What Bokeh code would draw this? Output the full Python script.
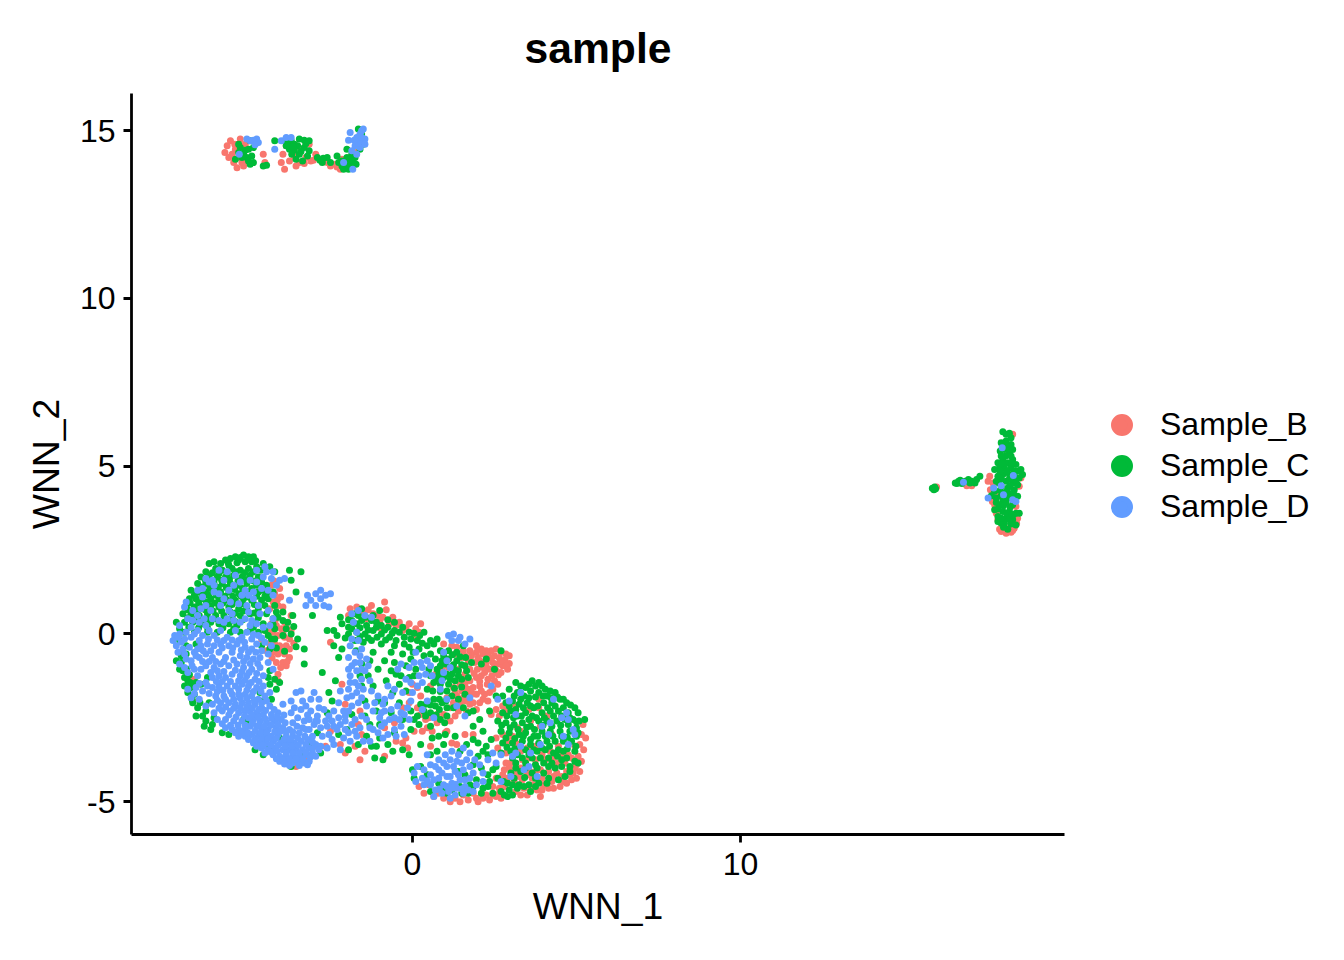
from bokeh.plotting import figure
from bokeh.models import Range1d, FixedTicker, Legend, LegendItem, ColumnDataSource
from bokeh.embed import file_html
from bokeh.resources import INLINE

FONT = "Liberation Sans"
colors = {"Sample_B": "#F8766D", "Sample_C": "#00BA38", "Sample_D": "#619CFF"}

b_top = [(-5.72,14.35),(-5.65,14.55),(-5.55,14.7),(-5.6,14.2),(-5.45,14.05),(-5.35,13.9),(-5.25,14.75),(-5.3,14.2),(-5.15,13.95),(-5.05,14.1),(-5.4,14.45),(-5.1,14.6),(-5.5,14.3),(-5.42,14.6),(-5.2,14.05),
(-4.55,14.3),(-4.5,14.05),(-3.95,14.3),(-3.85,14.55),(-3.75,14.1),(-3.6,14.25),(-3.45,14.05),(-3.4,14.45),(-3.25,14.2),(-3.15,14.6),(-3.1,14.1),(-2.95,14.3),(-3.55,13.95),(-4.0,14.05),(-3.3,14.02),(-3.02,14.12),
(-2.7,14.15),(-2.5,13.95),(-2.35,14.0),(-2.2,13.85),(-2.05,13.95),(-1.9,14.2),(-1.8,14.05),(-1.75,14.35),(-2.15,14.15),(-3.9,13.85),(-2.6,14.05),(-2.3,13.92)]
c_top = [(-5.4,14.15),(-5.3,14.35),(-5.25,14.5),(-5.15,14.3),(-5.05,14.2),(-5.0,14.45),(-4.95,14.7),(-4.75,14.65),(-4.85,14.05),(-4.95,14.0),(-4.55,13.95),(-4.45,13.97),(-5.2,14.2),(-5.1,14.42),(-4.9,14.25),(-5.0,14.1),(-5.3,14.6),(-4.85,14.5),
(-4.2,14.7),(-3.9,14.7),(-3.8,14.62),(-3.7,14.72),(-3.6,14.6),(-3.45,14.75),(-3.3,14.72),(-3.15,14.7),(-3.75,14.45),(-3.6,14.42),(-3.45,14.3),(-3.3,14.5),(-3.15,14.4),(-3.55,14.15),(-3.35,14.1),(-3.2,14.25),(-3.85,14.55),(-3.68,14.3),(-3.5,14.55),(-3.25,14.62),(-3.4,14.38),(-3.65,14.52),
(-2.9,14.2),(-2.75,14.05),(-2.6,14.2),(-2.5,14.05),(-2.3,14.25),(-2.25,14.05),(-2.15,13.95),(-2.0,14.05),(-1.9,14.0),(-1.85,14.3),(-1.75,14.2),(-1.6,14.45),(-2.0,14.45),(-1.65,15.05),(-1.55,14.9),(-1.5,14.6),(-2.05,13.9),(-2.15,14.1),(-2.0,14.2),(-1.85,14.12),(-2.1,13.85),(-1.95,13.85),(-1.72,14.0),(-2.72,14.18),(-2.82,14.12)]
d_top = [(-5.28,14.3),(-4.95,14.7),(-4.75,14.75),(-4.7,14.65),(-5.05,14.75),(-4.0,14.7),(-3.85,14.8),(-3.7,14.8),(-4.2,14.45),(-2.1,14.05),(-1.82,13.85),(-1.7,14.3),(-1.95,14.72),(-1.9,14.95),(-1.7,14.8),(-1.6,14.9),
(-1.55,15.0),(-1.5,15.05),(-1.6,14.7),(-1.45,14.75),(-1.75,14.55),(-1.6,14.5),(-1.45,14.6),(-1.55,14.8),(-1.85,14.4),(-1.65,14.62),(-1.78,14.72),(-4.85,14.72),(-4.8,14.58)]

b_right = [(17.95,3.05),(18.1,3.0),(18.25,3.03),(18.35,3.15),(18.0,3.2),(18.2,3.15),(17.85,3.4),(17.8,3.6),(17.75,3.85),(17.65,4.05),(17.62,4.3),(17.55,4.55),(17.6,4.7),(18.45,3.45),(18.5,4.4),(18.55,4.65),(17.05,4.42),(16.9,4.42),(15.98,4.38),(18.0,5.6),(18.3,5.95),(17.9,4.2),(18.4,3.8),(17.7,4.2),(17.7,4.5),(17.68,3.95),(17.78,3.7),(18.42,3.3),(18.1,3.08),(17.9,3.12),(18.3,3.08)]
c_right = [(15.9,4.3),(15.95,4.33),(15.85,4.34),(15.92,4.38),(16.55,4.5),(16.65,4.55),(16.75,4.48),(16.85,4.55),(16.95,4.6),(17.05,4.55),(17.2,4.6),(17.3,4.7),(16.7,4.58),(17.15,4.5),(16.6,4.48),(17.0,4.5),
(18.0,6.03),(18.1,5.95),(18.2,5.98),(18.25,5.85),(18.1,5.75),(17.95,5.7),(18.25,5.65),(17.92,5.45),(18.05,5.5),(18.3,5.5),(18.2,5.35),(18.3,5.2),(18.4,5.05),(18.45,4.85),(18.0,5.2),(17.85,5.1),(18.15,5.1),(17.9,4.95),(17.75,4.9),(18.05,4.95),(18.25,4.95),(18.55,4.9),(18.6,4.75),(18.5,4.65),(18.35,4.7),(18.2,4.75),(18.0,4.75),(17.85,4.7),(17.8,4.55),(18.1,4.55),(18.3,4.5),(18.45,4.45),(17.95,4.4),(18.15,4.35),(18.35,4.3),(18.45,4.1),(17.75,4.25),(18.05,4.2),(18.25,4.15),(17.8,4.05),(18.0,4.0),(17.65,4.12),(17.9,3.85),(18.1,3.9),(18.3,3.85),(18.5,3.6),(17.75,3.7),(18.0,3.65),(18.2,3.65),(18.4,3.6),(17.85,3.5),(18.1,3.45),(18.3,3.4),(17.85,3.35),(18.05,3.3),(18.25,3.28),(18.4,3.25),(18.15,3.12),(17.95,3.3),
(18.12,5.6),(18.18,5.45),(18.08,5.3),(17.95,5.3),(18.25,5.3),(17.98,5.08),(18.28,5.1),(17.92,4.85),(18.12,4.85),(18.35,4.85),(17.95,4.62),(18.2,4.62),(18.4,4.58),(17.88,4.5),(18.22,4.42),(17.92,4.28),(18.12,4.25),(18.32,4.22),(17.95,4.12),(18.18,4.05),(18.35,4.05),(17.8,3.92),(18.02,3.82),(18.22,3.78),(17.85,3.72),(18.12,3.58),(18.32,3.55),(17.95,3.45),(18.2,3.42),(18.02,3.18),(18.28,3.55)]
d_right = [(16.8,4.52),(17.98,5.55),(17.72,4.35),(17.55,4.05),(17.95,4.42),(18.02,4.15),(18.32,4.72),(18.3,4.0),(18.4,3.95)]

b_main = [(-4.3,1.45),(-4.15,1.5),(-4.05,1.35),(-4.2,1.2),(-4.02,1.1),(-4.25,0.95),(-4.1,0.85),(-3.95,0.8),(-4.35,0.75),(-3.7,0.55),
(-4.3,0.3),(-4.15,0.25),(-4.0,0.15),(-3.85,0.2),(-3.7,0.1),(-4.25,0.05),(-4.1,-0.05),(-3.9,-0.1),(-3.75,-0.15),(-4.35,-0.3),(-4.2,-0.3),(-4.05,-0.35),(-3.85,-0.35),(-3.75,-0.45),(-4.25,-0.55),(-4.1,-0.6),(-3.9,-0.6),(-3.75,-0.7),(-4.15,-0.85),(-3.95,-0.85),(-3.85,-0.95),(-4.1,-1.2),(-4.6,-0.15),(-4.1,-1.4),
(-5.3,0.9),(-6.8,-1.35),(-6.65,-1.35),(-6.7,-2.0),(-1.6,-2.3),(-1.55,-3.0),(-1.65,-2.7),(-2.2,-3.3),(-2.05,-3.55),(-1.75,-3.35),(-1.6,-3.75),(-1.45,-3.5),(-2.5,-2.9),(-2.65,-3.35),(-3.0,-3.35),(-3.3,-3.75),(-2.15,-1.5),(-2.05,-2.1),
(-1.9,0.75),(-1.7,0.8),(-1.5,0.65),(-1.95,0.55),(-1.4,0.45),(-1.2,0.6),(-1.0,0.35),(-0.9,0.5),(-0.7,0.3),(-0.5,0.25),(-0.3,0.1),(-0.1,0.3),(0.1,0.15),(0.25,0.3),(-1.25,0.85),(-0.85,0.95),(-2.5,-0.25),
(0.0,-1.5),(0.15,-1.6),(-0.1,-1.75),(0.25,-1.85),(-0.3,-2.2),(-0.1,-2.05),(0.25,-2.4),(0.05,-2.9),(-0.2,-3.1),(0.3,-2.9),(-0.85,-2.8),(-0.5,-3.2),(-0.55,-2.65),(-0.15,-3.4),
(0.55,-1.55),(0.7,-1.2),(0.9,-1.05),(0.95,-0.3),(1.2,-0.35),(1.35,-0.4),(1.55,-0.5),(1.75,-0.5),(1.95,-0.35),(2.1,-0.45),(2.25,-0.5),(2.4,-0.5),(2.55,-0.45),(2.7,-0.55),(2.85,-0.6),(2.95,-0.65),(1.95,-0.55),(2.15,-0.6),(2.3,-0.65),(2.5,-0.65),(2.65,-0.72),(2.82,-0.78),(2.95,-0.88),(2.05,-0.8),(2.25,-0.85),(2.45,-0.85),(2.6,-0.9),(2.75,-0.95),(2.9,-1.05),(2.15,-1.0),(2.35,-1.05),(2.55,-1.1),(2.7,-1.15),(1.9,-0.85),(1.7,-0.8),(1.5,-0.7),
(1.1,-1.0),(1.4,-1.05),(1.45,-1.3),(1.6,-1.2),(1.75,-1.05),(1.45,-1.5),(1.6,-1.5),(1.75,-1.4),(1.95,-1.3),(1.25,-1.6),(1.5,-1.7),(1.7,-1.65),(1.85,-1.6),(2.05,-1.55),(1.35,-1.85),(1.55,-1.9),(1.75,-1.85),(1.95,-1.8),(2.2,-1.8),(2.45,-1.65),(2.6,-1.5),(2.1,-1.25),(2.3,-1.35),(1.05,-1.9),(1.25,-2.05),(1.45,-2.1),(1.75,-2.1),(2.05,-2.05),(2.3,-2.0),(2.55,-2.25),(2.85,-2.3),
(0.5,-2.5),(0.75,-2.65),(0.95,-2.4),(1.15,-2.6),(1.3,-2.45),(1.0,-2.95),(0.6,-2.9),(0.4,-2.55),(1.05,-2.9),(0.55,-3.35),(0.15,-2.2),(1.35,-3.3),(1.6,-3.0),(2.4,-2.4),(2.65,-2.45),
(2.9,-3.2),(3.2,-2.8),(3.15,-3.25),(2.85,-3.55),(3.0,-3.85),(2.95,-4.0),(3.3,-3.5),(3.5,-3.4),(3.75,-3.75),(3.95,-3.6),(4.2,-3.5),(4.45,-3.85),(4.65,-3.85),(4.85,-3.7),(3.2,-4.15),(3.55,-4.05),(3.9,-4.05),(4.15,-4.1),(4.4,-4.15),(4.7,-4.1),(4.95,-4.0),(5.05,-3.65),(5.1,-3.3),(5.15,-3.0),(5.2,-2.7),(3.1,-4.4),(3.35,-4.35),(3.65,-4.3),(3.95,-4.3),(4.25,-4.4),(4.6,-4.4),(4.85,-4.35),(5.0,-4.3),(3.4,-4.6),(3.8,-4.65),(4.15,-4.6),(4.5,-4.55),(3.15,-4.7),(3.5,-4.8),(3.9,-4.85),
(2.75,-4.2),(2.65,-4.6),(2.55,-4.85),(2.35,-4.95),(2.15,-4.9),(1.85,-4.75),(1.55,-4.8),(1.3,-4.9),(2.0,-5.0),(2.7,-4.9),(2.45,-4.55),(0.5,-4.5),(0.8,-4.75),(1.05,-4.8),(0.35,-4.75),(3.85,-1.95),(3.75,-2.5),(3.9,-2.75),(0.2,0.05),(0.05,-0.1)]
b_fill = [(-4.22,1.58),(-4.12,1.02),(-3.9,0.35),(-4.18,0.42),(-3.95,0.02),(-3.62,-0.28),(-3.98,-0.5),(-4.28,-0.72),(-4.02,-1.0),(-3.82,-0.82),(-4.42,0.1),(-4.45,-0.5),(-1.35,0.72),(-1.05,0.55),(-0.8,0.72),(-0.6,0.5),(-0.4,0.35),(-0.2,0.18),(-0.95,0.15),
(1.3,-0.6),(1.6,-0.65),(2.0,-0.7),(2.4,-0.72),(2.7,-0.82),(2.85,-0.95),(1.8,-0.65),(2.25,-0.98),(2.5,-0.98),(2.62,-1.22),(2.42,-1.25),(2.2,-1.15),(1.98,-1.05),(1.88,-1.18),(2.05,-1.42),(2.28,-1.5),(2.5,-1.4),(1.6,-1.35),(1.82,-1.78),(2.1,-1.7),(2.35,-1.75),(1.62,-1.72),(1.3,-1.75),(1.45,-1.95),(1.62,-2.0),(1.85,-2.05),(2.15,-1.95),(1.15,-2.2),(1.4,-2.3),(1.65,-2.3),(1.95,-2.25),(0.75,-2.4),(0.45,-2.8),
(3.3,-4.0),(3.05,-4.1),(3.5,-4.2),(3.75,-4.1),(4.0,-4.5),(4.3,-4.25),(4.55,-4.25),(4.8,-4.2),(3.25,-4.25),(3.7,-4.5),(3.95,-4.65),(4.3,-4.6),(4.7,-4.45),(3.6,-4.65),(3.3,-4.8),(5.1,-4.1),(5.15,-3.8),(5.22,-3.45),(5.28,-3.1),(5.0,-3.9),(4.9,-4.15),(4.95,-3.35),(4.75,-3.6),(4.55,-3.65),(4.3,-3.7),(4.05,-3.75),(3.55,-3.7),(3.35,-3.75),(3.15,-3.4),(2.85,-3.85),(2.8,-4.05),(3.05,-3.05),(3.3,-2.9),(2.75,-3.0),(2.55,-3.1),(2.6,-3.4),(3.6,-2.6),(3.85,-2.2),(3.55,-2.25),(3.15,-2.15),(2.75,-2.15),(4.1,-2.45),(4.25,-3.0),(4.45,-3.35),(3.75,-3.35),
(2.65,-4.75),(2.45,-4.8),(2.25,-4.8),(1.95,-4.9),(1.7,-4.95),(1.45,-5.0),(2.8,-4.55),(2.9,-4.3),(2.55,-4.3),(1.15,-5.0),(0.95,-4.9),(0.65,-4.85),(0.2,-4.55),(-0.85,-3.65),(-0.3,-3.25),(1.2,-3.25),(1.85,-3.0),(-3.55,-3.95)]

c_main = [(-5.7,2.2),(-5.55,2.25),(-5.4,2.3),(-5.25,2.28),(-5.15,2.35),(-5.0,2.3),(-4.85,2.3),(-4.9,2.15),(-5.1,2.15),(-5.35,2.12),(-5.6,2.05),(-5.85,2.1),(-6.05,2.15),(-6.2,2.1),(-6.0,1.95),(-5.8,1.9),(-5.5,1.95),(-5.25,1.9),(-5.0,1.95),(-4.75,2.0),(-4.55,2.1),(-4.35,2.0),(-4.2,1.85),(-3.75,1.9),(-3.7,1.6),(-6.3,1.85),(-6.45,1.7),(-6.2,1.7),(-5.95,1.7),(-5.7,1.7),(-5.45,1.75),(-5.2,1.7),(-4.95,1.75),(-4.7,1.7),(-6.55,1.5),(-6.3,1.5),(-6.05,1.5),(-5.8,1.5),(-5.55,1.5),(-5.3,1.45),(-5.05,1.5),(-4.75,1.45),(-4.45,1.45),(-6.75,1.3),(-6.55,1.25),(-6.3,1.25),(-6.1,1.3),(-5.85,1.25),(-5.6,1.25),(-5.3,1.2),(-5.0,1.25),(-4.7,1.25),(-4.45,1.2),(-4.25,1.25),(-6.8,1.05),(-6.6,1.05),(-6.4,1.05),(-6.15,1.05),(-5.9,1.05),(-5.65,1.0),(-5.4,1.0),(-5.15,1.05),(-4.9,1.0),(-4.6,1.0),(-4.4,1.05),(-6.9,0.85),(-6.65,0.8),(-6.4,0.8),(-6.15,0.85),(-5.9,0.8),(-5.6,0.8),(-5.3,0.75),(-5.05,0.8),(-4.7,0.75),(-4.5,0.85),(-4.2,0.85),
(-7.0,0.6),(-6.75,0.6),(-6.5,0.55),(-6.25,0.6),(-6.0,0.55),(-5.75,0.55),(-5.5,0.5),(-5.25,0.55),(-4.95,0.6),(-4.45,0.6),(-4.15,0.65),(-3.95,0.65),(-7.2,0.35),(-6.95,0.35),(-6.7,0.35),(-6.4,0.3),(-6.15,0.35),(-5.9,0.3),(-5.6,0.3),(-5.35,0.25),(-4.85,0.35),(-4.55,0.3),(-4.25,0.45),(-3.95,0.4),(-3.8,0.35),(-3.65,0.55),(-6.95,0.05),(-6.65,0.05),(-6.25,0.05),(-5.95,0.05),(-5.55,0.05),(-5.25,0.05),(-4.95,0.1),(-4.7,0.05),(-4.5,0.1),(-4.2,0.15),(-4.4,-0.05),(-3.95,-0.05),(-3.7,0.0),(-3.5,-0.15),(-7.1,-0.2),(-6.9,-0.35),(-6.6,-0.3),(-4.6,-0.35),(-4.35,-0.45),(-7.2,-0.8),(-7.05,-0.85),(-7.0,-1.1),(-6.95,-1.3),(-6.85,-1.4),(-6.95,-1.55),(-6.75,-1.6),(-6.85,-1.75),(-6.65,-1.8),(-6.7,-2.05),(-6.55,-2.2),(-6.4,-2.45),(-6.3,-2.6),(-6.15,-2.85),(-6.25,-1.3),(-6.2,-2.05),(-4.65,-1.75),(-4.35,-1.1),(-4.35,-1.5),(-4.2,-1.35),(-4.4,-1.3),(-4.05,-1.45),(-4.15,-1.65),(-4.3,-1.95),(-4.55,-2.0),(-5.15,-2.55),(-5.0,-2.6),(-4.55,-3.0),(-4.05,-3.1),(-4.35,-3.35),(-3.7,-3.95),(-3.3,-3.6),(-2.8,-3.55),(-2.25,-3.0),(-2.0,-2.85),(-1.65,-3.3),(-1.95,-3.45),(-1.85,-2.4),(-1.45,-2.0),(-1.55,-1.55),(-1.35,-1.25),(-2.6,-2.35),(-2.35,-1.4),(-2.25,-0.7),(-2.15,-0.45),(-2.4,-0.35),
(-2.6,0.1),(-2.4,0.1),(-2.15,0.3),(-1.95,0.2),(-1.85,0.4),(-1.7,0.3),(-1.55,0.4),(-1.4,0.25),(-1.25,0.4),(-1.1,0.2),(-0.95,0.25),(-0.75,0.2),(-0.55,0.1),(-0.4,0.05),(-1.95,0.0),(-1.7,0.05),(-1.45,0.0),(-1.2,0.1),(-0.95,0.0),(-0.7,-0.1),(-0.5,-0.2),(-0.25,-0.1),(-0.05,-0.15),(0.15,-0.2),(-0.1,0.05),(0.35,0.05),(-1.75,-0.2),(-1.5,-0.25),(-1.25,-0.2),(-0.95,-0.3),(-0.65,-0.55),(-1.55,0.75),(-1.75,0.6),(-1.0,0.7),(-0.55,0.35),(-2.2,0.5),
(-0.1,-0.4),(0.2,-0.45),(0.45,-0.35),(0.65,-0.3),(0.85,-0.5),(0.55,-0.6),(0.35,-0.65),(-0.05,-0.75),(0.7,-0.75),(0.9,-0.8),(1.1,-0.5),(1.35,-0.55),(1.55,-0.35),(1.8,-0.85),(1.1,-0.75),(1.35,-0.8),(1.6,-0.95),(0.5,-1.05),(0.75,-1.05),(0.95,-1.3),(1.2,-1.2),(1.4,-1.1),(1.65,-1.1),(0.65,-1.45),(0.85,-1.5),(1.1,-1.5),(1.3,-1.4),(1.5,-1.35),(1.7,-1.3),(2.1,-0.9),(2.25,-0.75),(2.5,-1.05),(2.7,-0.5),(-0.1,-1.3),(0.05,-1.25),(-0.35,-1.25),(0.1,-1.05),(-0.65,-1.1),(-0.4,-1.5),
(0.4,-2.1),(0.55,-2.35),(0.7,-2.15),(0.9,-2.05),(1.05,-2.2),(1.2,-1.85),(1.4,-1.95),(1.6,-1.8),(1.85,-2.3),(0.85,-2.55),(1.05,-2.45),(0.2,-2.7),(0.35,-2.3),(0.05,-2.55),(0.55,-2.75),(-0.05,-2.3),(-0.3,-2.55),(-0.65,-2.35),(-1.0,-3.1),(-0.55,-2.95),(-1.15,-3.7),(-0.9,-3.75),(-0.3,-3.45),(-0.1,-3.6),(0.25,-3.95),(0.55,-3.6),(0.6,-3.1),(0.95,-3.3),(0.75,-3.5),(0.05,-4.3),(0.0,-4.05),(1.0,-3.0),(1.3,-3.05),(2.05,-2.55),(1.85,-2.75),(2.15,-2.9),
(2.35,-2.3),(2.55,-1.85),(2.75,-1.85),(2.95,-1.65),(3.15,-1.45),(3.45,-1.6),(3.65,-1.4),(3.85,-1.45),(4.05,-1.65),(3.2,-1.75),(3.4,-1.85),(3.6,-1.7),(3.85,-1.75),(4.1,-1.85),(4.35,-1.75),(2.85,-2.05),(3.05,-2.0),(3.25,-2.1),(3.5,-2.05),(3.7,-2.2),(4.0,-2.05),(4.25,-2.05),(4.5,-1.95),(4.7,-2.05),(2.75,-2.35),(3.0,-2.3),(3.2,-2.45),(3.45,-2.35),(3.65,-2.45),(3.95,-2.35),(4.2,-2.3),(4.45,-2.3),(4.75,-2.35),(4.95,-2.2),(2.6,-2.6),(2.85,-2.65),(3.1,-2.7),(3.35,-2.65),(3.6,-2.75),(3.85,-2.6),(4.1,-2.6),(4.4,-2.6),(4.65,-2.55),(4.9,-2.55),(5.25,-2.55),(2.7,-2.9),(2.95,-2.95),(3.25,-3.0),(3.45,-2.95),(3.7,-3.05),(3.95,-2.9),(4.2,-2.9),(4.5,-2.9),(4.8,-2.9),(5.0,-2.8),(2.75,-3.25),(3.05,-3.25),(3.35,-3.2),(3.6,-3.3),(3.85,-3.25),(4.1,-3.2),(4.35,-3.2),(4.6,-3.2),(4.85,-3.2),(5.0,-3.05),(2.7,-3.55),(3.0,-3.5),(3.2,-3.6),(3.55,-3.6),(3.8,-3.5),(4.05,-3.45),(4.3,-3.55),(4.6,-3.5),(4.95,-3.5),(3.15,-3.85),(3.45,-3.85),(3.75,-3.9),(4.0,-3.85),(4.25,-3.85),(4.55,-3.75),(4.8,-3.95),(4.95,-3.8),(3.0,-4.15),(3.3,-4.1),(3.65,-4.15),(4.0,-4.15),(4.35,-4.0),(4.65,-4.25),(2.9,-4.45),(3.25,-4.5),(3.55,-4.5),(3.85,-4.45),(4.1,-4.45),(2.7,-4.7),(2.95,-4.65),(3.2,-4.6),(3.6,-4.7),
(2.15,-3.5),(2.0,-3.65),(1.85,-3.9),(2.1,-4.0),(2.3,-4.2),(2.55,-3.95),(2.6,-4.3),(2.3,-4.55),(2.1,-4.75),(1.85,-4.55),(1.7,-4.75),(1.45,-4.55),(1.2,-4.65),(0.95,-4.6),(1.6,-4.2),(2.45,-4.75),(2.9,-4.85),(3.05,-4.8),(1.65,-3.3),(0.45,-4.2),(0.55,-4.7),(1.4,-4.1)]
c_fill = [(-5.62,2.12),(-5.3,2.2),(-5.02,2.22),(-4.78,2.18),(-4.62,1.9),(-4.85,1.85),(-5.12,1.82),(-5.38,1.85),(-5.65,1.8),(-5.9,1.8),(-6.1,1.82),(-6.32,1.62),(-6.05,1.6),(-5.82,1.6),(-5.58,1.62),(-5.32,1.58),(-5.08,1.62),(-4.85,1.58),(-4.6,1.55),(-6.45,1.4),(-6.18,1.4),(-5.92,1.38),(-5.68,1.38),(-5.42,1.32),(-5.18,1.35),(-4.9,1.35),(-4.58,1.3),(-6.65,1.15),(-6.42,1.15),(-6.22,1.15),(-5.98,1.15),(-5.72,1.12),(-5.48,1.12),(-5.22,1.12),(-5.0,1.1),(-4.75,1.12),(-4.5,1.12),(-6.78,0.92),(-6.52,0.92),(-6.28,0.95),(-6.02,0.92),(-5.78,0.92),(-5.5,0.88),(-5.18,0.9),(-4.82,0.88),(-6.85,0.72),(-6.58,0.68),(-6.32,0.72),(-6.08,0.68),(-5.82,0.68),(-5.55,0.65),(-5.4,0.62),(-5.15,0.68),(-4.82,0.62),(-6.85,0.48),(-6.6,0.45),(-6.28,0.45),(-6.02,0.45),(-5.72,0.42),(-5.42,0.38),(-5.18,0.42),(-4.7,0.48),(-7.1,0.15),(-6.82,0.2),(-6.52,0.18),(-6.25,0.18),(-5.78,0.18),(-5.45,0.15),(-4.85,0.2),(-7.05,-0.65),(-6.9,-0.6),(-7.1,-1.05),(-6.88,-1.05),(-6.8,-1.22),(-6.78,-1.45),(-6.6,-1.45),(-6.45,-1.5),(-6.72,-1.95),(-6.48,-2.05),(-6.3,-2.3),(-6.05,-2.5),(-6.1,-2.7),(-5.8,-2.95),(-5.6,-3.0),(-4.3,-0.15),(-4.25,0.28),(-4.1,0.5),(-3.85,0.15),(-3.62,0.22),(-4.2,-0.15),(-3.9,-0.52),(-3.55,-0.38),(-4.15,-0.42),
(-1.85,0.15),(-1.6,0.18),(-1.35,0.12),(-1.1,0.35),(-0.85,0.12),(-0.62,0.02),(-1.6,-0.08),(-1.35,-0.12),(-1.08,-0.1),(-0.82,-0.18),(-0.55,-0.35),(-2.05,-0.12),(-2.3,-0.05),(-1.95,0.42),(-1.65,0.55),(-1.42,0.5),(-1.2,0.55),(-0.75,0.42),(-0.3,0.2),(0.05,0.02),(0.22,-0.05),(-0.25,-0.3),(0.02,-0.55),(0.3,-0.28),(0.55,-0.2),(0.75,-0.15),(-1.72,-0.5),(-1.2,-0.55),(-1.55,-0.9),(-1.3,-0.8),(-1.6,-1.25),(-1.2,-1.55),(-1.05,-1.05),(-0.85,-0.8),(-0.8,-1.4),(-0.55,-0.85),(-0.6,-1.75),(-0.2,-1.7),(-0.85,-2.05),(-1.1,-2.3),(-1.3,-2.7),(-1.4,-3.05),(-1.25,-3.35),(-1.0,-2.7),(-0.75,-3.3),(-0.4,-2.05),
(0.85,-0.95),(1.02,-0.9),(0.95,-0.65),(1.22,-0.62),(1.45,-0.68),(1.62,-0.7),(1.25,-0.92),(1.5,-0.92),(0.8,-1.2),(1.05,-1.2),(1.3,-1.08),(1.15,-1.35),(1.4,-1.25),(0.55,-1.25),(0.75,-1.35),(0.45,-1.65),(0.62,-1.7),(0.85,-1.72),(1.05,-1.7),(1.28,-1.62),(1.5,-1.58),(0.65,-1.95),(0.82,-1.95),(1.02,-2.0),(1.25,-2.2),(0.55,-2.12),(0.82,-2.25),(0.98,-2.65),(0.72,-2.42),(0.4,-2.45),(0.15,-2.45),(0.25,-2.1),(1.55,-2.2),(1.7,-2.35),
(3.3,-1.55),(3.55,-1.5),(3.75,-1.55),(3.95,-1.55),(4.2,-1.7),(3.1,-1.85),(3.3,-1.95),(3.55,-1.9),(3.75,-1.88),(3.98,-1.85),(4.22,-1.9),(4.42,-1.88),(4.6,-1.95),(2.95,-2.15),(3.15,-2.25),(3.38,-2.2),(3.6,-2.15),(3.82,-2.15),(4.12,-2.2),(4.35,-2.15),(4.6,-2.2),(4.82,-2.12),(2.88,-2.45),(3.08,-2.5),(3.32,-2.45),(3.55,-2.55),(3.78,-2.5),(4.02,-2.5),(4.3,-2.45),(4.55,-2.45),(4.8,-2.5),(5.05,-2.35),(5.08,-2.6),(2.72,-2.72),(2.98,-2.8),(3.22,-2.85),(3.48,-2.78),(3.72,-2.85),(3.98,-2.72),(4.25,-2.75),(4.52,-2.72),(4.75,-2.7),(5.0,-2.62),(2.85,-3.1),(3.12,-3.12),(3.38,-3.05),(3.6,-3.15),(3.82,-3.05),(4.05,-3.05),(4.28,-3.05),(4.55,-3.05),(4.72,-3.08),(5.05,-2.95),(2.88,-3.38),(3.12,-3.42),(3.45,-3.45),(3.7,-3.45),(3.95,-3.4),(4.18,-3.35),(4.45,-3.45),(4.72,-3.42),(4.98,-3.35),(3.05,-3.7),(3.35,-3.7),(3.65,-3.7),(3.9,-3.7),(4.15,-3.7),(4.42,-3.65),(4.7,-3.7),(5.05,-3.85),(3.15,-4.0),(3.45,-4.0),(3.8,-4.0),(4.15,-3.95),(4.55,-3.95),(4.8,-4.1),(3.1,-4.3),(3.42,-4.28),(3.75,-4.3),(4.15,-4.3),(4.45,-4.35),(3.05,-4.5),(3.4,-4.55),(3.75,-4.55),(2.8,-4.8),(2.78,-4.4),(2.45,-4.05),(2.35,-4.4),(2.15,-4.6),(1.95,-4.35),(1.75,-4.5),(1.5,-4.75),(1.3,-4.55),(1.05,-4.75),(0.8,-4.45),(2.25,-3.35),(2.3,-3.6),(2.0,-3.25),(2.4,-3.15)]
c_extra = [(-3.55,1.25),(-3.4,1.85),(-2.45,-2.0),(-2.75,-1.15),(-2.55,-1.75),(-3.3,-0.9),(-3.05,0.55),(-2.9,-2.95),(-3.15,-3.25),(-1.05,-2.0),(-0.3,-0.6),(-0.5,-1.2),(-0.2,-0.95),(-1.45,-2.45),(-1.1,-3.35),(-0.6,-3.5),(0.25,-3.3),(-0.05,-2.85),(0.8,-3.05),(1.45,-3.5),(1.85,-3.15),(-3.3,-0.45),(-6.6,-2.45),(-6.35,-2.75),(-5.35,-2.95),(-4.8,-3.45),(-4.55,-3.6)]

d_main = [(-4.75,1.9),(-4.5,2.0),(-4.45,1.85),(-4.25,1.85),(-4.05,1.6),(-3.9,1.65),(-4.55,1.7),(-4.3,1.65),(-4.15,1.45),(-5.4,1.75),(-5.65,1.85),(-5.9,1.9),(-6.3,1.65),(-6.2,1.55),(-6.1,1.6),(-6.55,1.3),(-6.4,1.35),(-6.05,1.25),(-5.9,1.2),(-5.6,1.3),(-5.45,1.45),(-5.1,1.3),(-5.0,1.15),(-4.85,1.25),(-4.6,1.35),(-4.4,1.3),(-4.25,1.15),(-4.85,1.05),(-6.9,0.95),(-6.95,0.8),(-6.7,0.7),(-6.45,0.75),(-6.3,0.85),(-6.15,0.7),(-5.85,0.85),(-5.6,0.7),(-5.3,0.9),(-5.05,0.85),(-4.7,0.85),(-4.4,0.7),(-4.25,0.45),(-3.75,1.0),(-7.1,0.25),(-6.85,0.45),(-6.7,0.4),(-6.5,0.35),(-6.3,0.25),(-5.9,0.4),(-5.65,0.45),(-5.45,0.4),(-5.25,0.35),(-5.1,0.45),(-4.9,0.4),(-4.75,0.3),(-4.55,0.2),(-4.35,0.25),(-7.25,-0.05),(-7.3,-0.2),(-7.2,-0.35),(-7.1,0.0),(-6.9,0.05),(-6.75,-0.1),(-6.55,0.1),(-6.4,-0.05),(-6.2,0.1),(-6.05,-0.05),(-5.85,0.1),(-5.65,-0.1),(-5.4,0.1),(-5.2,-0.1),(-5.05,0.05),(-4.9,-0.15),(-4.7,-0.05),(-4.5,-0.25),(-4.3,-0.35),(-4.6,-0.5),(-7.15,-0.55),(-7.0,-0.45),(-6.8,-0.4),(-6.65,-0.55),(-6.45,-0.35),(-6.25,-0.3),(-6.05,-0.35),(-5.85,-0.3),(-5.6,-0.35),(-5.35,-0.3),(-5.1,-0.4),(-4.9,-0.45),(-4.75,-0.3),(-7.1,-0.9),(-6.9,-0.75),(-6.75,-0.8),(-6.5,-0.7),(-6.3,-0.6),(-6.1,-0.7),(-5.9,-0.55),(-5.7,-0.7),(-5.5,-0.55),(-5.25,-0.65),(-5.05,-0.7),(-4.85,-0.75),(-4.65,-0.7),(-4.4,-0.6),(-4.4,-0.85),(-6.85,-1.15),(-6.65,-1.05),(-6.3,-0.95),(-6.05,-1.0),(-5.85,-0.9),(-5.6,-0.95),(-5.35,-0.9),(-5.15,-1.0),(-4.9,-1.05),(-4.65,-1.0),(-4.25,-1.05),(-6.55,-1.25),(-6.3,-1.45),(-6.1,-1.3),(-5.9,-1.25),(-5.7,-1.3),(-5.5,-1.2),(-5.25,-1.25),(-5.05,-1.25),(-4.8,-1.35),(-4.55,-1.25),(-6.85,-1.65),(-6.6,-1.6),(-6.4,-1.7),(-6.1,-1.6),(-5.9,-1.55),(-5.65,-1.55),(-5.4,-1.55),(-5.2,-1.5),(-5.0,-1.55),(-4.75,-1.6),(-4.55,-1.55),(-4.35,-1.75),(-6.75,-1.9),(-6.5,-1.95),(-6.0,-1.85),(-5.75,-1.85),(-5.5,-1.8),(-5.3,-1.8),(-5.1,-1.8),(-4.9,-1.85),(-4.7,-1.95),(-4.5,-1.85),(-6.3,-2.15),(-6.1,-2.1),(-5.85,-2.05),(-5.6,-2.05),(-5.4,-2.1),(-5.2,-2.05),(-5.0,-2.05),(-4.8,-2.1),(-4.6,-2.2),(-4.35,-2.15),(-6.05,-2.35),(-5.8,-2.3),(-5.55,-2.3),(-5.3,-2.35),(-5.1,-2.3),(-4.95,-2.3),(-4.75,-2.35),(-4.55,-2.4),(-4.3,-2.4),(-4.1,-2.35),(-5.95,-2.55),(-5.7,-2.55),(-5.45,-2.6),(-5.2,-2.6),(-5.0,-2.5),(-4.85,-2.55),(-4.65,-2.6),(-4.45,-2.65),(-4.2,-2.6),(-4.0,-2.55),(-5.7,-2.8),(-5.5,-2.85),(-5.3,-2.85),(-5.1,-2.85),(-4.95,-2.75),(-4.75,-2.75),(-4.6,-2.85),(-4.4,-2.85),(-4.15,-2.8),(-3.95,-2.8),(-3.75,-2.85),(-5.3,-3.05),(-5.1,-3.05),(-4.9,-3.0),(-4.7,-3.05),(-4.55,-3.1),(-4.3,-3.05),(-4.1,-3.0),(-3.85,-3.05),(-3.65,-3.05),(-3.45,-2.95),(-4.85,-3.25),(-4.65,-3.25),(-4.45,-3.25),(-4.25,-3.2),(-4.0,-3.25),(-3.8,-3.25),(-3.6,-3.25),(-3.4,-3.2),(-3.2,-3.15),(-4.6,-3.4),(-4.4,-3.45),(-4.2,-3.4),(-3.95,-3.45),(-3.75,-3.45),(-3.55,-3.45),(-3.35,-3.45),(-3.15,-3.4),(-2.95,-3.3),(-4.25,-3.6),(-4.05,-3.65),(-3.85,-3.65),(-3.65,-3.65),(-3.45,-3.65),(-3.25,-3.6),(-3.05,-3.55),(-2.8,-3.35),(-4.05,-3.8),(-3.85,-3.8),(-3.65,-3.85),(-3.5,-3.8),(-3.3,-3.85),(-3.15,-3.8),
(-2.6,-3.4),(-2.4,-3.3),(-2.55,-3.0),(-2.3,-2.85),(-2.1,-3.1),(-1.9,-3.2),(-1.7,-3.05),(-1.5,-3.2),(-3.15,-2.85),(-3.0,-2.7),(-2.8,-2.8),(-2.65,-2.6),(-2.45,-2.6),(-3.3,-2.6),(-3.5,-2.5),(-3.7,-2.35),(-3.4,-2.25),(-3.1,-2.3),(-2.9,-2.45),(-2.7,-2.25),(-2.4,-2.3),(-2.25,-2.5),(-2.05,-2.6),(-1.85,-2.7),(-1.6,-2.8),(-1.4,-2.55),(-2.1,-2.3),(-1.85,-2.15),(-1.65,-2.05),(-1.4,-2.15),(-1.2,-2.3),(-2.25,-2.05),(-2.0,-1.9),(-2.2,-1.7),(-1.95,-1.65),(-1.7,-1.75),(-1.5,-1.65),(-1.75,-1.45),(-1.55,-1.35),(-1.9,-1.25),(-1.7,-1.1),(-1.45,-1.1),(-1.85,-0.95),(-1.6,-0.85),(-1.4,-0.75),(-1.95,-0.7),(-1.75,-0.55),(-1.55,-0.45),(-1.9,-0.35),(-1.65,-0.2),(-3.35,-2.0),(-3.1,-1.95),(-3.0,-1.75),(-3.7,-2.0),(-3.95,-2.1),(-2.85,-1.95),(-3.4,-1.7),(-3.55,-1.75),(-1.85,0.6),(-1.65,0.7),(-1.45,0.55),(-1.25,0.5),(-1.8,0.35),(-3.1,1.0),(-2.95,1.2),(-2.8,1.05),(-3.25,0.85),(-2.95,0.85),(-2.65,1.15),(-2.7,0.85),(-2.55,0.8),(-2.5,1.2),(-2.8,1.3),(-3.2,1.15),
(-1.2,-2.85),(-1.0,-2.5),(-0.85,-2.3),(-0.65,-2.25),(-0.55,-2.5),(-0.35,-2.35),(-0.15,-2.2),(-0.35,-2.75),(-0.55,-2.85),(-0.85,-2.65),(-0.1,-2.55),(-1.05,-2.95),(-0.75,-3.0),(-0.25,-3.0),(-1.25,-1.7),(-1.05,-1.85),(-0.85,-1.95),(-0.65,-1.85),(-0.55,-1.65),(0.6,-1.25),(0.4,-1.2),(0.2,-1.25),(0.3,-1.0),(0.45,-0.8),(0.95,-0.55),(1.05,-0.8),(1.15,-1.0),(0.15,-1.55),(0.0,-1.75),(-0.05,-2.0),(-0.3,-1.75),(0.3,-1.45),(0.05,-0.85),(0.95,-1.15),(0.9,-1.4),(1.75,-0.15),(1.6,-0.3),(1.45,-0.1),(1.25,0.0),(1.1,-0.05),(1.75,-1.9),(1.05,-1.95),(1.35,-2.15),(0.45,-2.0),(0.3,-2.25),(0.65,-2.5),(-0.1,-1.0),(-0.35,-0.9),
(0.55,-3.9),(0.35,-4.05),(0.15,-3.95),(0.8,-3.75),(1.0,-3.6),(1.2,-3.5),(1.4,-3.6),(1.55,-3.4),(1.75,-3.55),(1.65,-3.75),(1.35,-3.8),(1.05,-3.95),(0.8,-4.05),(0.55,-4.2),(0.3,-4.3),(0.1,-4.4),(1.55,-4.05),(1.3,-4.1),(1.05,-4.25),(0.8,-4.3),(0.55,-4.5),(0.35,-4.5),(1.85,-4.15),(2.05,-3.9),(2.15,-4.15),(1.75,-4.3),(1.45,-4.35),(1.2,-4.45),(0.95,-4.5),(0.7,-4.65),(1.6,-4.55),(1.35,-4.6),(1.1,-4.7),(0.9,-4.75),(1.85,-4.7),(1.55,-4.75),(1.3,-4.8),(1.95,-4.5),(2.15,-4.4),(2.55,-3.85),(2.7,-3.6),(2.3,-3.75),(2.45,-3.55),(0.65,-4.85),(1.15,-4.9),
(2.95,-2.0),(3.3,-1.75),(3.15,-2.4),(3.3,-3.35),(3.15,-3.55),(3.05,-3.65),(3.9,-3.3),(3.95,-2.75),(4.2,-2.65),(4.3,-1.95),(4.55,-2.5),(4.7,-2.35),(4.95,-3.0),(4.9,-2.85),(4.6,-3.05),(4.75,-3.3),(3.4,-4.05),(3.0,-4.25),(3.8,-4.25),(3.55,-3.95),(2.7,-4.4),(2.6,-1.95),(2.4,-1.55),(1.6,-2.45)]
d_fill = [(-5.55,-1.7),(-5.3,-1.65),(-5.05,-1.68),(-4.85,-1.72),(-4.62,-1.72),(-5.95,-1.72),(-5.78,-1.68),(-5.45,-1.95),(-5.25,-1.92),(-5.05,-1.92),(-4.82,-1.98),(-4.6,-2.05),(-4.45,-2.0),(-5.7,-1.95),(-5.95,-1.98),(-5.7,-2.18),(-5.45,-2.22),(-5.25,-2.2),(-5.05,-2.18),(-4.88,-2.2),(-4.68,-2.25),(-4.48,-2.28),(-4.22,-2.25),(-5.9,-2.22),(-5.6,-2.42),(-5.38,-2.48),(-5.12,-2.45),(-4.9,-2.42),(-4.7,-2.48),(-4.5,-2.52),(-4.3,-2.52),(-4.12,-2.48),(-3.92,-2.42),(-5.8,-2.68),(-5.55,-2.72),(-5.32,-2.72),(-5.1,-2.72),(-4.88,-2.65),(-4.68,-2.72),(-4.52,-2.75),(-4.3,-2.72),(-4.1,-2.7),(-3.88,-2.65),(-3.65,-2.65),(-3.52,-2.75),(-5.4,-2.95),(-5.2,-2.95),(-5.02,-2.95),(-4.8,-2.9),(-4.62,-2.95),(-4.45,-2.95),(-4.2,-2.92),(-4.02,-2.9),(-3.85,-2.92),(-3.65,-2.92),(-3.35,-2.8),(-5.0,-3.15),(-4.8,-3.15),(-4.6,-3.15),(-4.4,-3.12),(-4.15,-3.12),(-3.92,-3.15),(-3.72,-3.15),(-3.5,-3.1),(-3.28,-3.05),(-3.05,-3.05),(-4.75,-3.35),(-4.55,-3.32),(-4.32,-3.32),(-4.1,-3.32),(-3.88,-3.35),(-3.68,-3.35),(-3.48,-3.32),(-3.25,-3.3),(-3.05,-3.22),(-4.5,-3.55),(-4.32,-3.52),(-4.12,-3.5),(-3.85,-3.55),(-3.65,-3.55),(-3.45,-3.55),(-3.25,-3.52),(-3.05,-3.42),(-2.85,-3.45),(-4.15,-3.72),(-3.95,-3.75),(-3.75,-3.72),(-3.55,-3.72),(-3.35,-3.72),(-3.12,-3.68),(-2.95,-3.65),(-3.75,-3.92),(-3.45,-3.92),(-3.2,-3.9),(-3.9,-3.88),
(-5.8,-1.42),(-5.55,-1.42),(-5.3,-1.4),(-5.1,-1.38),(-4.92,-1.45),(-4.68,-1.42),(-5.98,-1.42),(-6.2,-1.78),(-6.25,-1.55),(-6.5,-1.48),(-6.65,-1.78),(-5.75,-1.12),(-5.4,-1.08),(-5.2,-1.12),(-4.98,-1.15),(-4.75,-1.18),(-5.95,-1.1),(-6.15,-1.15),(-6.45,-1.05),(-6.72,-0.95),(-6.95,-1.0),(-5.75,-0.82),(-5.45,-0.78),(-5.15,-0.82),(-4.95,-0.88),(-4.72,-0.88),(-6.0,-0.82),(-6.2,-0.82),(-6.4,-0.82),(-6.6,-0.65),(-6.95,-0.6),(-5.8,-0.42),(-5.48,-0.42),(-5.22,-0.48),(-5.0,-0.55),(-4.78,-0.55),(-6.15,-0.5),(-6.38,-0.5),(-6.55,-0.45),(-5.75,-0.2),(-5.5,-0.18),(-5.3,-0.2),(-5.12,-0.25),(-4.85,-0.02),(-4.6,-0.12),(-5.95,-0.18),(-6.22,-0.15),(-6.5,-0.2),(-6.65,0.0),(-6.95,-0.15),(-7.05,-0.25),(-7.15,-0.1),
(-2.95,-2.6),(-3.2,-2.42),(-2.55,-2.45),(-2.2,-2.7),(-1.95,-2.95),(-2.4,-2.75),(-2.75,-3.05),(-2.45,-3.15),(-1.75,-2.55),(-1.55,-2.45),(-1.3,-2.8),(-2.2,-3.45),(-1.9,-1.45),(-2.05,-2.45),(-1.95,-2.3),(-1.55,-1.9),(-1.85,-1.85),(-1.65,-1.55),(-1.75,-0.85),(-1.55,-1.05),(-1.95,-1.05),(-1.35,-0.95),(-1.6,-0.65),(-1.85,-0.15),(-1.7,0.05),(-0.9,-2.1),(-0.45,-2.15),(-0.7,-2.55),(-0.4,-2.55),(-0.95,-2.75),(-3.6,-2.2),(-3.25,-2.15),(-2.85,-2.2),
(0.7,-3.95),(0.95,-3.85),(1.15,-3.75),(1.25,-3.95),(1.5,-3.85),(1.75,-3.95),(1.9,-3.75),(1.4,-4.2),(1.6,-4.35),(1.15,-4.25),(0.9,-4.15),(0.65,-4.35),(0.45,-4.38),(1.3,-4.48),(1.05,-4.55),(0.82,-4.62),(1.5,-4.62),(1.7,-4.65),(1.2,-4.6),(0.45,-3.6),(0.05,-4.15)]
d_extra = [(-5.75,1.6),(-5.25,1.55),(-4.95,1.6),(-6.4,1.1),(-6.05,1.45),(-5.75,1.05),(-5.2,1.15),(-5.55,0.95),(-4.75,1.55),(-6.55,0.55),(-6.1,0.45),(-5.75,0.35),(-5.5,0.6),(-5.0,0.65),(-4.65,0.6),(-6.75,0.2),(-6.35,0.45),(-4.95,0.25),(-1.3,-1.4),(-1.15,-2.05),(-0.95,-2.35),(-0.75,-1.55),(-0.45,-1.05),(-0.2,-1.35),(-0.05,-1.45),(-0.25,-2.4),(-0.5,-3.05),(-0.9,-3.1),(-1.3,-3.2),(-1.75,-2.9),(-2.05,-2.85),(-2.6,-2.75),(-2.9,-2.6),(-3.15,-2.55),(-3.25,-2.85),(0.1,-0.55),(0.25,-0.85),(0.55,-0.95),(0.85,-1.65),(1.4,-0.2),(1.2,-0.2),(3.6,-3.55),(4.15,-3.0),(4.75,-2.55)]

samples = list(colors)
layers = {"Sample_B": b_top + b_right + b_main + b_fill, "Sample_C": c_top + c_right + c_main + c_fill + c_extra, "Sample_D": d_top + d_right + d_main + d_fill + d_extra}

p = figure(width=1328, height=944, frame_width=933, frame_height=741, min_border_left=131, min_border_top=92, min_border_bottom=111, min_border_right=0,
           output_backend="svg", toolbar_location=None, x_range=Range1d(-8.567, 19.88), y_range=Range1d(-5.98, 16.11), background_fill_color="white", border_fill_color="white")
p.outline_line_color = None
p.grid.visible = False

p.title.text = "sample"
p.title.align = "center"
p.title.text_font = FONT
p.title.text_font_size = "42.67px"
p.title.text_font_style = "bold"
p.title.text_color = "black"
p.title.standoff = 43

for ax in (p.xaxis[0], p.yaxis[0]):
    ax.axis_line_width = 2.8
    ax.axis_line_color = "black"
    ax.major_tick_line_width = 2.8
    ax.major_tick_line_color = "black"
    ax.major_tick_in = 0
    ax.major_tick_out = 8
    ax.minor_tick_line_color = None
    ax.major_label_text_font = FONT
    ax.major_label_text_font_size = "32px"
    ax.major_label_text_color = "black"
    ax.axis_label_text_font = FONT
    ax.axis_label_text_font_size = "37.33px"
    ax.axis_label_text_font_style = "normal"
    ax.axis_label_text_color = "black"

p.xaxis[0].ticker = FixedTicker(ticks=[0, 10])
p.yaxis[0].ticker = FixedTicker(ticks=[-5, 0, 5, 10, 15])
p.yaxis[0].major_label_overrides = {-5: "-5"}
p.xaxis[0].axis_label = "WNN_1"
p.yaxis[0].axis_label = "WNN_2"
p.xaxis[0].major_label_standoff = 10
p.yaxis[0].major_label_standoff = 8
p.xaxis[0].axis_label_standoff = 7
p.yaxis[0].axis_label_standoff = 10

items = []
for name in samples:
    pts = layers[name]
    src = ColumnDataSource(dict(x=[a for a, _ in pts], y=[b for _, b in pts]))
    p.scatter("x", "y", source=src, size=7, marker="circle", fill_color=colors[name], line_color=None)
for name in samples:
    key = p.scatter([float("nan")], [float("nan")], size=6, marker="circle", fill_color=colors[name], line_color=colors[name], line_width=5.6)
    items.append(LegendItem(label=name, renderers=[key]))

legend = Legend(items=items, location=(37, 307), orientation="vertical", glyph_width=41, glyph_height=41, label_height=41, spacing=0,
                label_standoff=18, label_text_font=FONT, label_text_font_size="32px", label_text_color="black",
                border_line_color=None, background_fill_color=None, margin=0, padding=0)
p.add_layout(legend, "right")

open("out.html", "w").write(file_html(p, INLINE))
